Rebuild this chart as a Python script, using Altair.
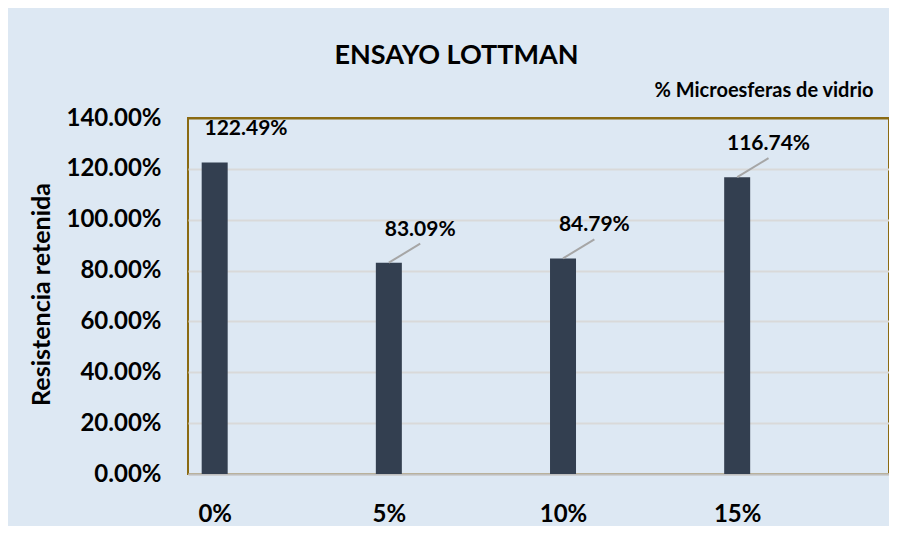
import json
import altair as alt
import pandas as pd

categories = ["0%", "5%", "10%", "15%"]
values = [122.49, 83.09, 84.79, 116.74]
y_ticks = [0, 20, 40, 60, 80, 100, 120, 140]

df = pd.DataFrame({"cat": categories, "idx": list(range(len(categories))), "val": values})

FONT = "Lato"
BAR = "#333F50"
BG = "#DDE8F3"
BORDER = "#8A6A12"
X_TITLE = "% Microesferas de vidrio"
Y_TITLE = "Resistencia retenida"

x_scale = alt.Scale(domain=[-0.1245, 3.843], nice=False, zero=False)
y_scale = alt.Scale(domain=[0, 140], nice=False)

label_expr_x = json.dumps(categories) + "[datum.value]"

base = alt.Chart(df)

bars = base.mark_bar(size=26, color=BAR).encode(
    x=alt.X("idx:Q", scale=x_scale, title=X_TITLE, axis=alt.Axis(
        values=list(range(len(categories))), labelExpr=label_expr_x,
        grid=False, ticks=False, domain=True, domainColor="#BFBFBF", domainWidth=2,
        labelFont=FONT, labelFontSize=24, labelFontWeight="bold", labelColor="black",
        labelPadding=28,
        titleFont=FONT, titleFontSize=20,
        titleFontWeight="bold", titleColor="black", titleX=685, titleY=-384,
        titleAlign="right", titleBaseline="middle")),
    y=alt.Y("val:Q", scale=y_scale, title=Y_TITLE, axis=alt.Axis(
        values=y_ticks, labelExpr="format(datum.value, '.2f') + '%'",
        grid=True,
        gridColor=alt.condition("datum.value >= 140", alt.value(BORDER), alt.value("#D9D9D9")),
        gridWidth=2, domain=False, ticks=False,
        labelFont=FONT, labelFontSize=24, labelFontWeight="bold", labelColor="black",
        labelPadding=27,
        titleFont=FONT, titleFontSize=25,
        titleFontWeight="bold", titleColor="black", titleX=-147, titleY=176,
        titleAngle=270, titleAlign="center", titleBaseline="middle")),
)

ann = base.transform_calculate(
    lx="datum.idx + 0.18", ly="datum.val + 13", ly2="datum.val + 7.5",
    lab="format(datum.val, '.2f') + '%'",
)

leaders = ann.transform_filter("datum.idx > 0").mark_rule(color="#A6A6A6", strokeWidth=2).encode(
    x=alt.X("idx:Q", scale=x_scale, title=X_TITLE),
    y=alt.Y("val:Q", scale=y_scale, title=Y_TITLE),
    x2="lx:Q",
    y2="ly2:Q",
)

labels = ann.mark_text(font=FONT, fontSize=21, fontWeight="bold", color="black",
                       align="center", baseline="middle").encode(
    x=alt.X("lx:Q", scale=x_scale, title=X_TITLE),
    y=alt.Y("ly:Q", scale=y_scale, title=Y_TITLE),
    text="lab:N",
)

chart = alt.layer(bars, leaders, labels).properties(
    width=701,
    height=356,
    autosize=alt.AutoSizeParams(type="none"),
    padding={"left": 180, "top": 110, "right": 0, "bottom": 52},
    title=alt.TitleParams("ENSAYO LOTTMAN", font=FONT, fontSize=27, fontWeight="bold",
                          color="black", anchor="middle", frame="group", dx=-82, offset=10),
).configure(
    background=BG,
).configure_view(
    stroke=BORDER, strokeWidth=2, fill=BG,
)

chart.save("out.html", embed_options={"renderer": "svg", "actions": False})
